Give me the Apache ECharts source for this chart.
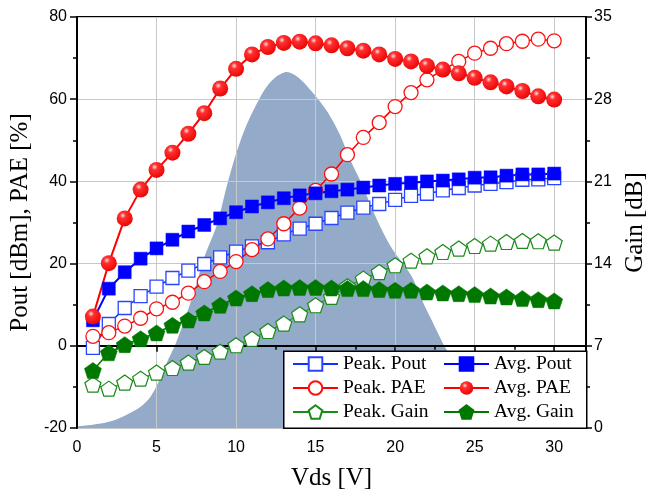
<!DOCTYPE html>
<html>
<head>
<meta charset="utf-8">
<script src="https://cdn.jsdelivr.net/npm/echarts@6/dist/echarts.min.js"></script>
<style>
  html, body { margin: 0; padding: 0; background: #fff; }
  #chart { width: 649px; height: 489px; }
</style>
</head>
<body>
<div id="chart"></div>
<script>
// Vds sweep [V]
const vds = [1, 2, 3, 4, 5, 6, 7, 8, 9, 10, 11, 12, 13, 14, 15, 16, 17, 18, 19, 20, 21, 22, 23, 24, 25, 26, 27, 28, 29, 30]

// left axis: Pout [dBm], PAE [%]
const peakPout = [-0.5, 5.3, 9.2, 12.1, 14.4, 16.5, 18.3, 19.9, 21.5, 22.9, 24.2, 25.2, 27.1, 28.5, 29.7, 31.1, 32.4, 33.6, 34.5, 35.5, 36.5, 37.0, 37.8, 38.4, 39.0, 39.4, 39.8, 40.4, 40.5, 40.8]
const avgPout = [6.2, 13.9, 17.9, 21.2, 23.7, 25.8, 27.8, 29.4, 31.0, 32.5, 33.9, 34.9, 35.9, 36.6, 37.1, 37.6, 38.0, 38.5, 39.0, 39.4, 39.7, 40.0, 40.2, 40.5, 40.9, 41.0, 41.4, 41.7, 41.7, 41.9]
const peakPae = [2.3, 3.2, 4.8, 6.7, 9.0, 10.6, 12.8, 15.6, 18.1, 20.5, 23.4, 26.0, 29.7, 33.5, 37.8, 41.8, 46.5, 50.7, 54.3, 58.2, 61.6, 64.7, 67.2, 69.2, 71.2, 72.4, 73.5, 74.1, 74.6, 74.2]
const avgPae = [7.1, 20.1, 31.0, 38.0, 42.8, 47.0, 51.6, 56.6, 62.6, 67.4, 70.9, 72.7, 73.7, 74.0, 73.6, 73.1, 72.4, 71.8, 70.9, 69.8, 69.2, 68.1, 67.2, 66.3, 65.2, 64.1, 63.1, 62.0, 60.7, 59.9]

// right axis: Gain [dB]
const peakGain = [3.7, 3.35, 3.87, 4.2, 4.72, 5.11, 5.57, 6.05, 6.5, 7.05, 7.6, 8.26, 8.89, 9.68, 10.45, 11.16, 12.07, 12.72, 13.28, 13.86, 14.25, 14.62, 14.99, 15.28, 15.5, 15.7, 15.84, 15.93, 15.9, 15.79]
const avgGain = [4.9, 6.4, 7.1, 7.6, 8.1, 8.75, 9.2, 9.8, 10.45, 11.07, 11.44, 11.79, 11.92, 11.96, 11.96, 11.92, 11.87, 11.87, 11.79, 11.73, 11.73, 11.58, 11.5, 11.44, 11.36, 11.24, 11.16, 11.02, 10.93, 10.82]

// shaded signal distribution (drawn on left axis scale)
const distX = [0, 1, 2, 3, 4, 4.6, 5.1, 5.6, 6.2, 6.9, 7.5, 8.0, 8.8, 9.4, 10.0, 10.6, 11.3, 11.9, 12.5, 13.2, 14.0, 14.8, 15.7, 16.5, 17.2, 18.0, 18.6, 19.4, 20.0, 20.6, 21.1, 21.7, 22.3, 23.2, 24, 25, 26, 27, 28, 29, 30, 30.6]
const distY = [-19.6, -19.2, -18.5, -17.0, -14.8, -12.5, -9.0, -4.5, 0.5, 7.8, 15.0, 21.5, 29.5, 38.6, 46.7, 53.2, 58.9, 62.9, 65.4, 66.6, 65.0, 61.7, 57.2, 51.6, 45.1, 38.6, 32.9, 26.4, 22.5, 19.5, 16.5, 11.0, 6.2, -0.7, -4.5, -8.5, -12, -15, -17.3, -18.8, -19.6, -20]

const xTicks = [0, 5, 10, 15, 20, 25, 30]

const pentagon = 'path://M0,-10 L9.51,-3.09 L5.88,8.09 L-5.88,8.09 L-9.51,-3.09 Z'
const sphere = {
  type: 'radial', x: 0.38, y: 0.32, r: 0.75,
  colorStops: [
    { offset: 0, color: '#ffe0e0' },
    { offset: 0.25, color: '#ff3030' },
    { offset: 1, color: '#e80000' }
  ]
}
const pairs = (ys) => vds.map((v, i) => [v, ys[i]])

const chart = echarts.init(document.getElementById('chart'))
const gridColor = '#c8c8c8'
const tickFont = { fontFamily: 'Liberation Sans', fontSize: 16, color: '#000' }
const nameFont = { fontFamily: 'Liberation Serif', fontSize: 25, color: '#000' }

const options = {
  animation: false,
  grid: {
    left: 77, right: 63, top: 17, bottom: 61, outerBoundsMode: 'none',
    show: true, borderColor: '#000', borderWidth: 2
  },
  xAxis: {
    type: 'value', min: 0, max: 32, interval: 5, z: 2,
    name: 'Vds [V]', nameLocation: 'middle', nameGap: 38, nameTextStyle: nameFont,
    axisLine: { show: true, lineStyle: { color: '#000', width: 2 } },
    axisTick: { show: true, inside: false, length: 6, lineStyle: { color: '#000', width: 1.5 } },
    minorTick: { show: true, splitNumber: 2, length: 4, lineStyle: { color: '#000', width: 1.5 } },
    axisLabel: Object.assign({ margin: 12, showMaxLabel: false,
      formatter: (v) => (xTicks.indexOf(v) >= 0 ? String(v) : '') }, tickFont),
    splitLine: { show: true, lineStyle: { color: gridColor, width: 1 } }
  },
  yAxis: [
    {
      type: 'value', min: -20, max: 80, interval: 20, z: 2,
      name: 'Pout [dBm], PAE [%]', nameLocation: 'middle', nameRotate: 90, nameGap: 40,
      nameTextStyle: nameFont,
      axisLine: { show: true, lineStyle: { color: '#000', width: 2 } },
      axisTick: { show: true, inside: false, length: 7, lineStyle: { color: '#000', width: 1.5 } },
      minorTick: { show: true, splitNumber: 2, length: 4, lineStyle: { color: '#000', width: 1.5 } },
      axisLabel: Object.assign({ margin: 10 }, tickFont),
      splitLine: { show: true, lineStyle: { color: gridColor, width: 1 } }
    },
    {
      type: 'value', position: 'right', min: 0, max: 35, interval: 7, z: 2,
      name: 'Gain [dB]', nameLocation: 'middle', nameRotate: 90, nameGap: 35,
      nameTextStyle: nameFont,
      axisLine: { show: true, lineStyle: { color: '#000', width: 2 } },
      axisTick: { show: true, inside: false, length: 6, lineStyle: { color: '#000', width: 1.5 } },
      minorTick: { show: true, splitNumber: 2, length: 4, lineStyle: { color: '#000', width: 1.5 } },
      axisLabel: Object.assign({ margin: 8 }, tickFont),
      splitLine: { show: false }
    }
  ],
  legend: [
    {
      left: 292, top: 354, orient: 'vertical', padding: 0, z: 6,
      itemWidth: 45, itemHeight: 17, itemGap: 4,
      textStyle: { fontFamily: 'Liberation Serif', fontSize: 19.5, color: '#000' },
      data: ['Peak. Pout', 'Peak. PAE', 'Peak. Gain']
    },
    {
      left: 443, top: 354, orient: 'vertical', padding: 0, z: 6,
      itemWidth: 45, itemHeight: 17, itemGap: 4,
      textStyle: { fontFamily: 'Liberation Serif', fontSize: 19.5, color: '#000' },
      data: ['Avg. Pout', 'Avg. PAE', 'Avg. Gain']
    }
  ],
  graphic: [
    {
      type: 'rect', left: 283, top: 350.5, z: 5,
      shape: { width: 303, height: 77 },
      style: { fill: '#fff', stroke: '#000', lineWidth: 1.5 }
    }
  ],
  series: [
    {
      name: 'dist', type: 'line', z: 1, smooth: 0.3, showSymbol: false, silent: true,
      data: distX.map((x, i) => [x, distY[i]]),
      lineStyle: { width: 0 },
      areaStyle: { color: '#93aac8', opacity: 1, origin: 'start' }
    },
    {
      name: 'Peak. Gain', type: 'line', yAxisIndex: 1, z: 3,
      symbol: pentagon, symbolSize: [16, 15],
      itemStyle: { color: '#fff', borderColor: '#1a8a1a', borderWidth: 1.2 },
      lineStyle: { color: '#1a8a1a', width: 1 },
      data: pairs(peakGain)
    },
    {
      name: 'Avg. Gain', type: 'line', yAxisIndex: 1, z: 3,
      symbol: pentagon, symbolSize: [17, 16],
      itemStyle: { color: '#007800', borderColor: '#007800', borderWidth: 0.5 },
      lineStyle: { color: '#007800', width: 1.5 },
      data: pairs(avgGain)
    },
    {
      name: 'Peak. Pout', type: 'line', z: 3,
      symbol: 'rect', symbolSize: 13,
      itemStyle: { color: '#fff', borderColor: '#2846ff', borderWidth: 1.3 },
      lineStyle: { color: '#1030ff', width: 1.5 },
      data: pairs(peakPout)
    },
    {
      name: 'Peak. PAE', type: 'line', z: 3,
      symbol: 'circle', symbolSize: 14,
      itemStyle: { color: '#fff', borderColor: '#ff1010', borderWidth: 1.3 },
      lineStyle: { color: '#ff0000', width: 1.5 },
      data: pairs(peakPae)
    },
    {
      name: 'Avg. Pout', type: 'line', z: 3,
      symbol: 'rect', symbolSize: 13,
      itemStyle: { color: '#0000ff', borderColor: '#0000ff', borderWidth: 0.5 },
      lineStyle: { color: '#0000ff', width: 2 },
      data: pairs(avgPout)
    },
    {
      name: 'Avg. PAE', type: 'line', z: 3,
      symbol: 'circle', symbolSize: 16,
      itemStyle: { color: sphere },
      lineStyle: { color: '#ff0000', width: 2 },
      data: pairs(avgPae)
    }
  ]
}
chart.setOption(options)
</script>
</body>
</html>
